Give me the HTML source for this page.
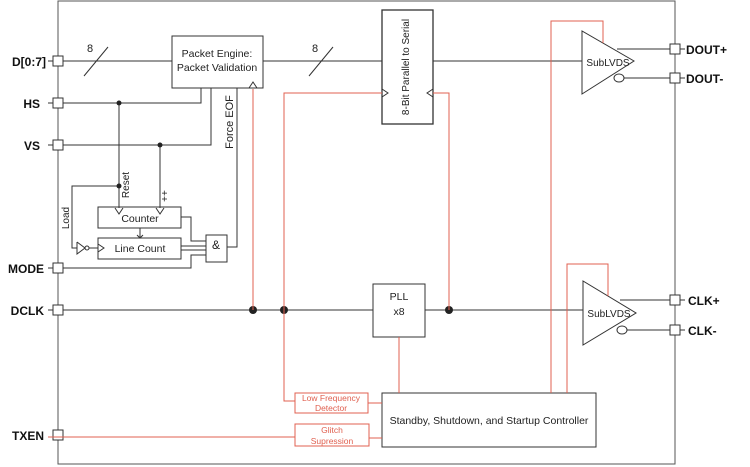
<!DOCTYPE html>
<html><head><style>body{margin:0;background:#fff}svg{display:block}</style></head><body>
<svg width="750" height="467" viewBox="0 0 750 467" xmlns="http://www.w3.org/2000/svg" font-family="Liberation Sans, sans-serif">
<g fill="none" stroke="#333" stroke-width="1">
<rect x="58" y="1" width="617" height="463" stroke="#555"/>
<!-- left signals -->
<line x1="63" y1="61" x2="172" y2="61"/>
<line x1="84" y1="76" x2="108" y2="47"/>
<line x1="263" y1="61" x2="382" y2="61"/>
<line x1="309" y1="76" x2="333" y2="47"/>
<line x1="433" y1="61" x2="582" y2="61"/>
<polyline points="63,103 201,103 201,88"/>
<polyline points="63,145 211,145 211,88"/>
<line x1="119" y1="103" x2="119" y2="208"/>
<line x1="160" y1="145" x2="160" y2="208"/>
<polyline points="119,186 72,186 72,248 77,248"/>
<polyline points="77,242 77,254 85,248 77,242"/>
<circle cx="87" cy="248" r="2"/>
<line x1="89" y1="248" x2="98" y2="248"/>
<rect x="98" y="207" width="83" height="21"/>
<rect x="98" y="238" width="83" height="21"/>
<polyline points="115,208 119,214 123,208"/>
<polyline points="156,208 160,214 164,208"/>
<polyline points="98,244 104,248 98,252"/>
<line x1="140" y1="228" x2="140" y2="238"/>
<polyline points="137,235 140,238 143,235"/>
<polyline points="181,217 191,217 191,241 206,241"/>
<line x1="181" y1="246" x2="206" y2="246"/>
<line x1="181" y1="250" x2="206" y2="250"/>
<polyline points="63,268 191,268 191,255 206,255"/>
<rect x="206" y="235" width="21" height="27"/>
<polyline points="227,247 237,247 237,88"/>
<rect x="172" y="36" width="91" height="52"/>
<polyline points="249,88 253,82 257,88"/>
<rect x="382" y="10" width="51" height="114" stroke-width="1.3"/>
<polyline points="382,89 388,93 382,97"/>
<polyline points="433,89 427,93 433,97"/>
<!-- DCLK -->
<line x1="63" y1="310" x2="373" y2="310"/>
<line x1="425" y1="310" x2="583" y2="310"/>
<rect x="373" y="284" width="52" height="53"/>
<rect x="382" y="393" width="214" height="54"/>
<!-- drivers -->
<polygon points="582,31 582,94 634,61"/>
<line x1="617" y1="49" x2="670" y2="49"/>
<ellipse cx="619" cy="78" rx="5" ry="4"/>
<line x1="624" y1="78" x2="670" y2="78"/>
<polygon points="583,281 583,345 636,313"/>
<line x1="620" y1="300" x2="670" y2="300"/>
<ellipse cx="622" cy="330" rx="5" ry="4"/>
<line x1="627" y1="330" x2="670" y2="330"/>
<line x1="675" y1="49" x2="685" y2="49"/><line x1="675" y1="78" x2="685" y2="78"/>
<line x1="675" y1="300" x2="685" y2="300"/><line x1="675" y1="330" x2="685" y2="330"/>
<line x1="48" y1="61" x2="58" y2="61"/><line x1="48" y1="103" x2="58" y2="103"/>
<line x1="48" y1="145" x2="58" y2="145"/><line x1="48" y1="268" x2="58" y2="268"/>
<line x1="48" y1="310" x2="58" y2="310"/>
</g>
<g fill="#fff" stroke="#333">
<rect x="53" y="56" width="10" height="10"/><rect x="53" y="98" width="10" height="10"/>
<rect x="53" y="140" width="10" height="10"/><rect x="53" y="263" width="10" height="10"/>
<rect x="53" y="305" width="10" height="10"/><rect x="53" y="430" width="10" height="10"/>
<rect x="670" y="44" width="10" height="10"/><rect x="670" y="73" width="10" height="10"/>
<rect x="670" y="295" width="10" height="10"/><rect x="670" y="325" width="10" height="10"/>
</g>
<g fill="#222"><circle cx="119" cy="103" r="2.5"/><circle cx="160" cy="145" r="2.5"/><circle cx="119" cy="186" r="2.5"/>
<circle cx="253" cy="310" r="4"/><circle cx="284" cy="310" r="4"/><circle cx="449" cy="310" r="4"/></g>
<!-- red -->
<g fill="none" stroke="#e06050" stroke-width="1">
<line x1="253" y1="89" x2="253" y2="310"/>
<polyline points="382,93 284,93 284,401 295,401"/>
<polyline points="433,93 449,93 449,310"/>
<line x1="399" y1="337" x2="399" y2="393"/>
<polyline points="551,393 551,21 603,21 603,43"/>
<polyline points="567,393 567,264 608,264 608,296"/>
<line x1="48" y1="437" x2="295" y2="437"/>
<line x1="368" y1="403" x2="382" y2="403"/>
<line x1="369" y1="438" x2="382" y2="438"/>
<rect x="295" y="393" width="73" height="20"/>
<rect x="295" y="424" width="74" height="22"/>
</g>
<g fill="#e06050" font-size="8.5" text-anchor="middle">
<text x="331" y="401">Low Frequency</text><text x="331" y="411">Detector</text>
<text x="332" y="433">Glitch</text><text x="332" y="444">Supression</text>
</g>
<g fill="#222" font-size="10.5" text-anchor="middle">
<text x="217" y="57">Packet Engine:</text><text x="217" y="71">Packet Validation</text>
<text x="140" y="222">Counter</text><text x="140" y="252">Line Count</text>
<text x="216" y="249" font-size="12">&amp;</text>
<text x="399" y="300">PLL</text><text x="399" y="315">x8</text>
<text x="489" y="424">Standby, Shutdown, and Startup Controller</text>
<text x="608" y="66" font-size="10">SubLVDS</text>
<text x="609" y="317" font-size="10">SubLVDS</text>
<text x="90" y="52" font-size="11">8</text><text x="315" y="52" font-size="11">8</text>
<text transform="translate(409,67) rotate(-90)" font-size="10">8-Bit Parallel to Serial</text>
<text transform="translate(233,122) rotate(-90)" font-size="11">Force EOF</text>
<text transform="translate(129,185) rotate(-90)" font-size="10">Reset</text>
<text transform="translate(168,196) rotate(-90)" font-size="10">++</text>
<text transform="translate(69,218) rotate(-90)" font-size="10">Load</text>
</g>
<g fill="#111" font-size="12" font-weight="bold">
<g text-anchor="end">
<text x="46" y="66">D[0:7]</text><text x="40" y="108">HS</text><text x="40" y="150">VS</text>
<text x="44" y="273">MODE</text><text x="44" y="315">DCLK</text><text x="44" y="440">TXEN</text>
</g>
<text x="686" y="54">DOUT+</text><text x="686" y="83">DOUT-</text>
<text x="688" y="305">CLK+</text><text x="688" y="335">CLK-</text>
</g>
</svg>
</body></html>
